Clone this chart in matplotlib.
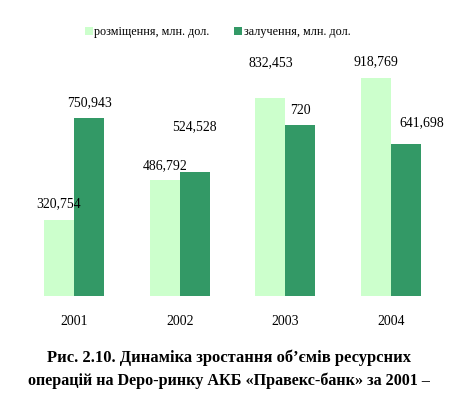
import matplotlib
matplotlib.use("Agg")
import matplotlib.pyplot as plt
from matplotlib.patches import Patch

years = ["2001", "2002", "2003", "2004"]
placed = [320.754, 486.792, 832.453, 918.769]
raised = [750.943, 524.528, 720.0, 641.698]
placed_labels = ["320,754", "486,792", "832,453", "918,769"]
raised_labels = ["750,943", "524,528", "720", "641,698"]
series_names = ["розміщення, млн. дол.", "залучення, млн. дол."]
caption = ["Рис. 2.10. Динаміка зростання об’ємів ресурсних",
           "операцій на Depo-ринку АКБ «Правекс-банк» за 2001 –"]

# layout (pixel offsets of value labels above bar tops)
placed_off = [(0, 16), (0, 15), (0, 36), (0, 16)]
raised_off = [(0, 15), (0, 45), (0, 15), (16, 21)]

W, H = 458, 394
fig = plt.figure(figsize=(W / 100, H / 100), dpi=100)
plt.rcParams['font.family'] = ['Liberation Serif', 'DejaVu Serif']

L, R = 21.2, 443.9
base = 296
scale = 0.2373  # px per unit
ymax = 1000
top = base - ymax * scale
ax = fig.add_axes([L / W, (H - base) / H, (R - L) / W, (base - top) / H])
ax.set_xlim(-0.5, 3.5)
ax.set_ylim(0, ymax)

bw = 30 / 105.67
light = "#CCFFCC"
dark = "#339966"
x = list(range(len(years)))
ax.bar([i - bw / 2 for i in x], placed, width=bw, color=light, linewidth=0)
ax.bar([i + bw / 2 for i in x], raised, width=bw, color=dark, linewidth=0)

fs = 9.9
for i in x:
    dx, dy = placed_off[i]
    ax.annotate(placed_labels[i], (i - bw / 2, placed[i]),
                xytext=(dx * 0.72, dy * 0.72), textcoords="offset points",
                ha="center", va="center", fontsize=fs)
    dx, dy = raised_off[i]
    ax.annotate(raised_labels[i], (i + bw / 2, raised[i]),
                xytext=(dx * 0.72, dy * 0.72), textcoords="offset points",
                ha="center", va="center", fontsize=fs)

for s in ax.spines.values():
    s.set_visible(False)
ax.set_yticks([])
ax.set_xticks(x)
ax.set_xticklabels(years, fontsize=fs)
ax.tick_params(axis="x", length=0, pad=14)

handles = [Patch(facecolor=light, edgecolor="none"), Patch(facecolor=dark, edgecolor="none")]
fig.legend(handles, series_names, loc="center", bbox_to_anchor=(217.5 / W, 1 - 32 / H),
           ncol=2, frameon=False, fontsize=8.7, handlelength=0.65, handleheight=0.65,
           handletextpad=0.15, columnspacing=2.0)

fig.text(0.5, 1 - 358 / H, caption[0], ha="center", va="center",
         fontsize=11.9, fontweight="bold")
fig.text(0.5, 1 - 381 / H, caption[1], ha="center", va="center",
         fontsize=11.6, fontweight="bold")

fig.savefig("out.png", dpi=100)
